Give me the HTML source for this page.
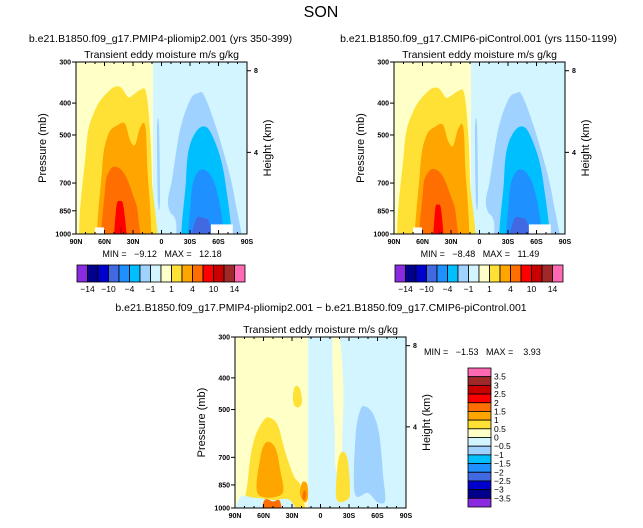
<!DOCTYPE html>
<html><head><meta charset="utf-8"><style>
html,body{margin:0;padding:0;background:#fff;}
svg{display:block;font-family:"Liberation Sans",sans-serif;}
.tk{font-size:7px;font-weight:bold;}
</style></head><body>
<svg id="fig" width="643" height="528" viewBox="0 0 643 528">
<text x="321" y="17" font-size="16" text-anchor="middle">SON</text>
<g id="panels"></g>
</svg>
<script>
// ---- data (lat in degrees N positive, pressure in mb) ----
const latTicks = [90,60,30,0,-30,-60,-90];
const latTickLabels = ["90N","60N","30N","0","30S","60S","90S"];
const pTicks = [300,400,500,700,850,1000];
const zTicks = [8,4];
const levelColors = ["#8a2be2","#00008b","#0000cd","#4169e1","#1e90ff","#00bfff","#a0d2ff","#d2f5ff","#ffffc8","#ffe135","#ffa500","#ff6e00","#ff0000","#c80000","#a02828","#ff69b4"];
const cbLabelsTop = ["-14","-10","-4","-1","1","4","10","14"];
const cbLabelsDiff = ["3.5","3","2.5","2","1.5","1","0.5","0","-0.5","-1","-1.5","-2","-2.5","-3","-3.5"];
const p1Yellow = [[81.6,1000],[79.5,555],[70,420],[54.2,365],[43.7,357],[35.3,383],[30,378],[22.6,365],[16.3,370],[12.1,483],[10,685],[9,1000]];
const p1Orange = [[64.7,1000],[62.6,639],[56.3,500],[45.8,466],[38.4,462],[33.2,518],[27.9,536],[22.6,476],[17.4,466],[15.3,596],[14.2,1000]];
const p1DkOrange = [[61.6,1000],[59.5,735],[54.2,639],[46.8,626],[38.4,661],[30,761],[24.7,875],[23.7,1000]];
const p1Red = [[50,1000],[47.9,845],[43.7,794],[39.5,845],[35.3,1000]];
const p1DkRed = [[45.8,1000],[42.6,946],[39.5,1000]];
const p1LtBlue = [[-21.6,1000],[-15.3,919],[-8.9,857],[-6.8,788],[-11,685],[-19.5,483],[-30,392],[-38.4,373],[-45.8,384],[-61.6,518],[-77.4,788],[-82.6,1000]];
const p1Strip = [[4.7,483],[2.6,466],[1.6,788],[3.7,800]];
const p1Cyan = [[-23.7,1000],[-25.8,685],[-30,536],[-41.6,473],[-53.2,500],[-66.8,685],[-72,1000]];
const p1Dodger = [[-30,1000],[-31,788],[-36.3,661],[-45.8,639],[-56.3,709],[-64.7,939],[-65.8,1000]];
const p1Royal = [[-27.9,1000],[-35.3,919],[-43.7,894],[-51,939],[-54.2,1000]];
const p1White = [[70,60.5,955],[-52,-75,935]];
const p2Yellow = [[81.6,1000],[79.5,560],[70,425],[54.2,368],[43.7,360],[35.3,385],[30,380],[22.6,368],[16.3,372],[12.1,483],[10,685],[9,1000]];
const p2Orange = [[64.7,1000],[62.6,645],[56.3,505],[45.8,470],[38.4,466],[33.2,520],[27.9,540],[22.6,480],[17.4,470],[15.3,600],[14.2,1000]];
const p2DkOrange = [[61.6,1000],[59.5,740],[54.2,650],[46.8,635],[38.4,670],[30,770],[24.7,880],[23.7,1000]];
const p2Red = [[49,1000],[47,860],[43.7,815],[40,860],[37,1000]];
const p2DkRed = [[45,1000],[42.6,960],[40,1000]];
const diffStrip = [[-13,300],[-20,300],[-24,420],[-23,600],[-22,760],[-16,760],[-15,600],[-13,420]];
const diffGold = [[78,1000],[76,800],[70,620],[60,540],[53.2,530],[44.7,560],[37.4,670],[28,800],[20,880],[18.4,1000]];
const diffOrange = [[65.8,906],[63.7,709],[57.4,630],[47.9,652],[42.6,761],[40.5,906]];
const diffGoldSmall = [[29,460],[27,426],[22,430],[19.5,470],[22,490],[27,488]];
const diffOrangeSmall = [[21.6,900],[19,834],[14,845],[13.2,930],[17,960]];
const diffRedSmall = [[19,930],[17.5,885],[15,900],[16.5,945]];
const diffGoldS = [[-17,939],[-18,740],[-22,676],[-28,700],[-31,860],[-29,939]];
const diffBlue = [[-36,900],[-37,600],[-42,500],[-48,490],[-56,520],[-62,600],[-66,800],[-68,950],[-60,960],[-50,900]];
const diffBottomCyan = [[88,1000],[86,940],[70,930],[50,945],[30,960],[20,1000]];
const diffBottomOr = [[62,1000],[60,960],[50,955],[42,965],[40,1000]];

const NS="http://www.w3.org/2000/svg";
const root=document.getElementById('panels');
function el(tag,attrs,parent){const e=document.createElementNS(NS,tag);for(const k in attrs)e.setAttribute(k,attrs[k]);(parent||root).appendChild(e);return e;}
function makeAxes(x0,y0,w,h){
  return {x:lat=>x0+(90-lat)/180*w, y:p=>y0+Math.log10(p/300)/Math.log10(1000/300)*h, x0,y0,w,h};
}
function poly(ax,pts,color,name,g){
  const P=pts.map(q=>[ax.x(q[0]),ax.y(q[1]>=1000?1250:q[1])]);
  const n=P.length;let d='M'+P[0][0].toFixed(1)+','+P[0][1].toFixed(1);
  for(let i=0;i<n;i++){
    const p0=P[(i-1+n)%n],p1=P[i],p2=P[(i+1)%n],p3=P[(i+2)%n];
    const c1=[p1[0]+(p2[0]-p0[0])/6,p1[1]+(p2[1]-p0[1])/6];
    const c2=[p2[0]-(p3[0]-p1[0])/6,p2[1]-(p3[1]-p1[1])/6];
    d+='C'+c1.map(v=>v.toFixed(1)).join(',')+' '+c2.map(v=>v.toFixed(1)).join(',')+' '+p2.map(v=>v.toFixed(1)).join(',');
  }
  d+='Z';
  const e=el('path',{d:d,fill:color,stroke:'none'},g);
  
  
}
function whiteRect(ax,w,g){
  const r=el('rect',{x:ax.x(w[0]),y:ax.y(w[2]),width:ax.x(w[1])-ax.x(w[0]),height:ax.y(1000)-ax.y(w[2]),fill:'#fff'},g);
  
  
}
function panel(ax,splitLat,layers,name,title,whites){
  const g=el('g',{});
  
  
  const c=el('clipPath',{id:name+'-clip'},g);el('rect',{x:ax.x0,y:ax.y0,width:ax.w,height:ax.h},c);
  const pg=el('g',{'clip-path':'url(#'+name+'-clip)'},g);
  el('rect',{x:ax.x0,y:ax.y0,width:ax.x(splitLat)-ax.x0,height:ax.h,fill:levelColors[8]},pg);
  el('rect',{x:ax.x(splitLat),y:ax.y0,width:ax.x0+ax.w-ax.x(splitLat),height:ax.h,fill:levelColors[7]},pg);
  layers.forEach(L=>poly(ax,L[0],L[1],L[2],pg));
  (whites||[]).forEach(w=>whiteRect(ax,w,pg));
  const fr=el('rect',{x:ax.x0,y:ax.y0,width:ax.w,height:ax.h,fill:'none',stroke:'#000','stroke-width':1},g);
  
  
  latTicks.forEach((t,i)=>{
    const x=ax.x(t);
    el('line',{x1:x,y1:ax.y0+ax.h,x2:x,y2:ax.y0+ax.h-4,stroke:'#000'},g);
    el('line',{x1:x,y1:ax.y0,x2:x,y2:ax.y0+4,stroke:'#000'},g);
    const tx=el('text',{x:x,y:ax.y0+ax.h+10,'text-anchor':'middle',class:'tk'},g);tx.textContent=latTickLabels[i];
    
    
  });
  for(let lat=80;lat>-90;lat-=10){const x=ax.x(lat);el('line',{x1:x,y1:ax.y0+ax.h,x2:x,y2:ax.y0+ax.h-2,stroke:'#000'},g);el('line',{x1:x,y1:ax.y0,x2:x,y2:ax.y0+2,stroke:'#000'},g);}
  pTicks.forEach(p=>{
    const y=ax.y(p);
    el('line',{x1:ax.x0,y1:y,x2:ax.x0-4,y2:y,stroke:'#000'},g);
    const tx=el('text',{x:ax.x0-5,y:y+2.5,'text-anchor':'end',class:'tk'},g);tx.textContent=p;
    
    
  });
  zTicks.forEach(z=>{
    const p=1000*Math.exp(-z/7);const y=ax.y(p);
    el('line',{x1:ax.x0+ax.w,y1:y,x2:ax.x0+ax.w+4,y2:y,stroke:'#000'},g);
    const tx=el('text',{x:ax.x0+ax.w+7,y:y+2.5,class:'tk'},g);tx.textContent=z;
    
    
  });
  const yl=el('text',{x:0,y:0,'font-size':'11','text-anchor':'middle',transform:`translate(${ax.x0-30},${ax.y0+ax.h/2}) rotate(-90)`},g);yl.textContent='Pressure (mb)';
  
  
  const yr=el('text',{x:0,y:0,'font-size':'11','text-anchor':'middle',transform:`translate(${ax.x0+ax.w+24},${ax.y0+ax.h/2}) rotate(-90)`},g);yr.textContent='Height (km)';
  
  
  const tt=el('text',{x:ax.x0+ax.w/2,y:ax.y0-4,'font-size':'10.5','text-anchor':'middle'},g);tt.textContent='Transient eddy moisture m/s g/kg';
  
  
  const st=el('text',{x:ax.x0+ax.w/2-1,y:ax.y0-20,'font-size':'10.5','text-anchor':'middle'},g);st.textContent=title;
  
  
  return g;
}
function txt(x,y,s,size,anchor,name){const t=el('text',{x:x,y:y,'font-size':size,'text-anchor':anchor||'start',style:'white-space:pre'});t.textContent=s;
  
  return t;}
function hbar(x0,y0,w,h,name){
  const g=el('g',{});
  
  
  const bw=w/levelColors.length;
  levelColors.forEach((c,i)=>{const r=el('rect',{x:x0+i*bw,y:y0,width:bw,height:h,fill:c,stroke:'#000','stroke-width':0.8},g);
    
    });
  cbLabelsTop.forEach((s,i)=>{const t=el('text',{x:x0+(2*i+1)*bw,y:y0+h+10,'font-size':'8.5','text-anchor':'middle'},g);t.textContent=s.replace('-','\u2212');
    
    });
}
function vbar(x0,y0,w,h,name){
  const g=el('g',{});
  
  
  const n=levelColors.length,bh=h/n;
  levelColors.slice().reverse().forEach((c,i)=>{const r=el('rect',{x:x0,y:y0+i*bh,width:w,height:bh,fill:c,stroke:'#000','stroke-width':0.8},g);
    
    });
  cbLabelsDiff.forEach((s,i)=>{const t=el('text',{x:x0+w+3,y:y0+(i+1)*bh+3,'font-size':'8.5'},g);t.textContent=s.replace('-','\u2212');
    
    });
}
const C=levelColors;
const a1=makeAxes(76,62,171,172), a2=makeAxes(394,62,171,172), a3=makeAxes(235,337,171,171);
panel(a1,9,[[p1Yellow,C[9],'contour-1-2'],[p1Orange,C[10],'contour-2-4'],[p1DkOrange,C[11],'contour-4-7'],[p1Red,C[12],'contour-7-10'],[p1DkRed,C[13],'contour-10-12'],
  [p1LtBlue,C[6],'contour-neg1'],[p1Strip,C[6],'contour-neg1-strip'],[p1Cyan,C[5],'contour-neg2'],[p1Dodger,C[4],'contour-neg4'],[p1Royal,C[3],'contour-neg7']],
  'panel-pliomip','b.e21.B1850.f09_g17.PMIP4-pliomip2.001 (yrs 350-399)',p1White);
panel(a2,9,[[p2Yellow,C[9],'contour-1-2'],[p2Orange,C[10],'contour-2-4'],[p2DkOrange,C[11],'contour-4-7'],[p2Red,C[12],'contour-7-10'],[p2DkRed,C[13],'contour-10-12'],
  [p1LtBlue,C[6],'contour-neg1'],[p1Strip,C[6],'contour-neg1-strip'],[p1Cyan,C[5],'contour-neg2'],[p1Dodger,C[4],'contour-neg4'],[p1Royal,C[3],'contour-neg7']],
  'panel-picontrol','b.e21.B1850.f09_g17.CMIP6-piControl.001 (yrs 1150-1199)',p1White);
panel(a3,13,[[diffStrip,C[8],'contour-pos-strip'],[diffGold,C[9],'contour-0.5'],[diffOrange,C[10],'contour-1'],[diffGoldSmall,C[9],'contour-0.5-upper'],
  [diffOrangeSmall,C[10],'contour-1-small'],[diffRedSmall,C[11],'contour-1.5-small'],[diffGoldS,C[9],'contour-0.5-south'],[diffBlue,C[6],'contour-neg0.5'],
  [diffBottomCyan,C[7],'contour-near-surface'],[diffBottomOr,C[11],'contour-surface-max']],'panel-difference','',[]);
txt(321,311,'b.e21.B1850.f09_g17.PMIP4-pliomip2.001 \u2212 b.e21.B1850.f09_g17.CMIP6-piControl.001','10.5','middle','difference-title');
txt(162,257,'MIN =   \u22129.12   MAX =   12.18','9','middle','stats-1');
txt(480,257,'MIN =   \u22128.48   MAX =   11.49','9','middle','stats-2');
txt(424,355,'MIN =   \u22121.53   MAX =    3.93','9','start','stats-diff');
hbar(77,265,168,17,'colorbar-1');
hbar(395,265,168,17,'colorbar-2');
vbar(468,368,23,139,'colorbar-diff');
</script>
</body></html>
